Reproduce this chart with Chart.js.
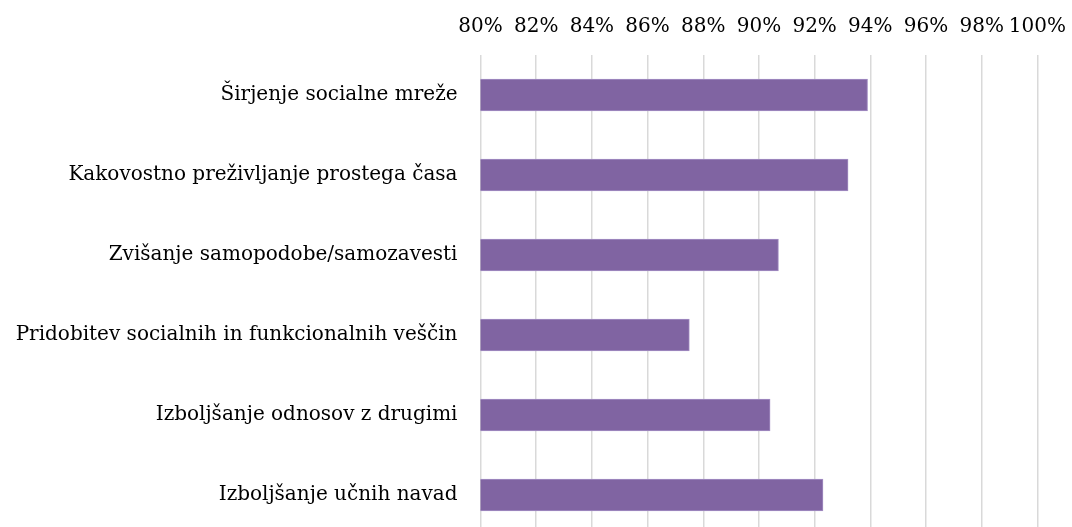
<!DOCTYPE html>
<html>
<head>
<meta charset="utf-8">
<script src="https://cdn.jsdelivr.net/npm/chart.js@4"></script>
<style>
  html, body { margin: 0; padding: 0; background: #fff; overflow: hidden; }
</style>
</head>
<body>
<canvas id="chart" width="1082" height="562"></canvas>
<script>
const categories = [
  'Širjenje socialne mreže',
  'Kakovostno preživljanje prostega časa',
  'Zvišanje samopodobe/samozavesti',
  'Pridobitev socialnih in funkcionalnih veščin',
  'Izboljšanje odnosov z drugimi',
  'Izboljšanje učnih navad'
];
const values = [0.939, 0.932, 0.907, 0.875, 0.904, 0.923];
const axisMin = 0.8;
const axisMax = 1.0;
const axisStep = 0.02;

const font = { family: '"DejaVu Serif", "Liberation Serif", serif', size: 20 };

new Chart(document.getElementById('chart'), {
  type: 'bar',
  data: {
    labels: categories,
    datasets: [{
      data: values,
      backgroundColor: '#8064a2',
      borderColor: '#a58fc4',
      borderWidth: 1,
      barThickness: 32
    }]
  },
  options: {
    indexAxis: 'y',
    responsive: false,
    animation: false,
    layout: { padding: { left: 0, right: 35, top: 0, bottom: 0 } },
    plugins: { legend: { display: false }, tooltip: { enabled: false } },
    scales: {
      x: {
        position: 'top',
        min: axisMin,
        max: axisMax,
        border: { display: false },
        grid: { color: '#d9d9d9', lineWidth: 1.5, drawTicks: false },
        ticks: {
          stepSize: axisStep,
          color: '#000',
          font,
          padding: 16,
          maxRotation: 0,
          autoSkip: false,
          callback: (v) => Math.round(v * 100) + '%'
        },
        afterFit: (s) => { s.height = 55; }
      },
      y: {
        border: { display: false },
        grid: { display: false },
        ticks: { color: '#000', font, padding: 15 },
        afterFit: (s) => { s.width = 480.5; }
      }
    }
  }
});
</script>
</body>
</html>
